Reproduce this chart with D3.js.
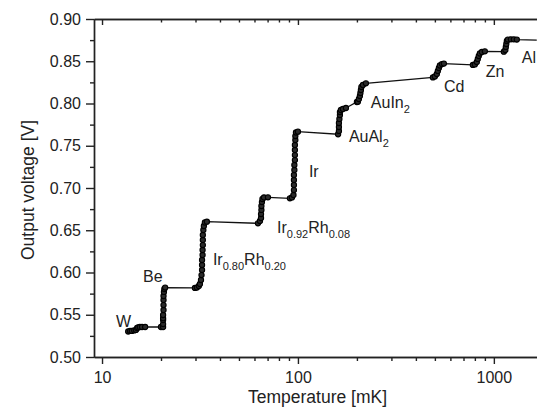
<!DOCTYPE html>
<html>
<head>
<meta charset="utf-8">
<script src="https://cdn.jsdelivr.net/npm/d3@7"></script>
<style>
  body { margin: 0; background: #fff; }
  svg text { font-family: "Liberation Sans", Arial, Helvetica, sans-serif; fill: #222; }
  .axis path, .axis line { stroke: #222; stroke-width: 1.4; }
</style>
</head>
<body>
<div id="chart"></div>
<script>
// temperature [mK] and output voltage [V]
var temps = [
  13.6, 13.9, 14.2, 14.6, 14.9, 15.1, 15.3, 15.6, 16.0, 16.6, 20.0,
  20.5, 20.5, 20.5, 20.5, 20.5, 20.6, 20.6, 20.6, 20.6, 20.7, 20.8, 21.0,
  29.8, 30.5, 31.2, 31.6, 32.0, 32.2, 32.4, 32.4, 32.4, 32.6, 32.6, 32.7, 32.7, 32.7, 32.9, 33.1, 33.5, 34.3,
  62.5, 64.0, 64.8, 64.8, 65.1, 65.1, 65.5, 65.9, 67.1, 70.3,
  91.0, 93.2, 94.9, 95.4, 95.4, 95.4, 95.4, 95.9, 95.9, 96.5, 96.5, 96.5, 96.5, 97.0, 97.0, 97.7, 100,
  160.3, 161.9, 161.9, 161.9, 162.8, 163.8, 163.8, 165.7, 169.7, 175.8, 200,
  202.3, 204.7, 207.1, 208.4, 209.6, 210.8, 214.6, 222.3,
  488.6, 500, 511.7, 517.7, 524.1, 530.3, 542.9, 555.8, 781.6,
  800, 818.6, 828, 837.6, 848.3, 868.6, 899.5, 1124.6,
  1144.8, 1151, 1158, 1164.9, 1178.7, 1221, 1265, 1310, 1656
];
var volts = [
  0.5302, 0.5308, 0.5308, 0.5314, 0.5320, 0.5343, 0.5350, 0.5355, 0.5355, 0.5355, 0.5355,
  0.5355, 0.5390, 0.5438, 0.5460, 0.5497, 0.5556, 0.5615, 0.5675, 0.5722, 0.5770, 0.5805, 0.5822,
  0.5817, 0.5822, 0.5840, 0.5864, 0.5911, 0.5970, 0.6030, 0.6089, 0.6148, 0.6207, 0.6266, 0.6325, 0.6385, 0.6444, 0.6503, 0.6550, 0.6592, 0.6601,
  0.6582, 0.6610, 0.6645, 0.6692, 0.6740, 0.6787, 0.6834, 0.6870, 0.6888, 0.6890,
  0.6878, 0.6888, 0.6917, 0.6976, 0.7036, 0.7095, 0.7154, 0.7213, 0.7272, 0.7331, 0.7390, 0.7450, 0.7509, 0.7568, 0.7615, 0.7657, 0.7667,
  0.7636, 0.7675, 0.7722, 0.7769, 0.7817, 0.7864, 0.7899, 0.7923, 0.7935, 0.7947, 0.8018,
  0.8021, 0.8053, 0.8089, 0.8124, 0.8160, 0.8195, 0.8219, 0.8239,
  0.8308, 0.8320, 0.8349, 0.8385, 0.8420, 0.8450, 0.8467, 0.8473, 0.8456,
  0.8462, 0.8491, 0.8527, 0.8562, 0.8592, 0.8610, 0.8618, 0.8613,
  0.8633, 0.8669, 0.8704, 0.8740, 0.8757, 0.8760, 0.8760, 0.8757, 0.8751
];
// points drawn without a marker (the plain line running out to the edge)
var plainPoints = [1656];

// superconducting reference labels: [main, sub, main, sub]
var labelParts = [
  ["W"], ["Be"], ["Ir", "0.80", "Rh", "0.20"], ["Ir", "0.92", "Rh", "0.08"], ["Ir"],
  ["AuAl", "2"], ["AuIn", "2"], ["Cd"], ["Zn"], ["Al"]
];
var labelTemps = [11.8, 16.2, 36.8, 78.2, 113.8, 182, 235.6, 555.8, 910, 1390];
var labelVolts = [0.5355, 0.5888, 0.6089, 0.6467, 0.713, 0.7544, 0.7947, 0.8136, 0.8314, 0.8479];

var xMajor = [10, 100, 1000];
var xMinor = [20, 30, 40, 50, 60, 70, 80, 90, 200, 300, 400, 500, 600, 700, 800, 900];
var yMajor = [0.50, 0.55, 0.60, 0.65, 0.70, 0.75, 0.80, 0.85, 0.90];
var yMinor = [0.525, 0.575, 0.625, 0.675, 0.725, 0.775, 0.825, 0.875];

var width = 537, height = 410,
    margin = {top: 19, left: 94, bottom: 53, right: -2};

var svg = d3.select("#chart").append("svg")
    .attr("width", width)
    .attr("height", height);

var x = d3.scaleLog()
    .domain([9.1, 1700])
    .range([margin.left, width - margin.right]);
var y = d3.scaleLinear()
    .domain([0.5, 0.9])
    .range([height - margin.bottom, margin.top]);

var bottom = height - margin.bottom;

// axes
svg.append("g").attr("class", "axis")
    .attr("transform", "translate(0," + bottom + ")")
    .call(d3.axisBottom(x).tickValues(xMajor).tickSize(7).tickSizeOuter(0).tickPadding(8).tickFormat(d3.format("d")));
svg.append("g").attr("class", "axis")
    .attr("transform", "translate(0," + bottom + ")")
    .call(d3.axisBottom(x).tickValues(xMinor).tickSize(4).tickSizeOuter(0).tickFormat(""));
svg.append("g").attr("class", "axis")
    .attr("transform", "translate(0," + margin.top + ")")
    .call(d3.axisTop(x).tickValues(xMajor).tickSize(-6).tickSizeOuter(0).tickFormat(""));
svg.append("g").attr("class", "axis")
    .attr("transform", "translate(0," + margin.top + ")")
    .call(d3.axisTop(x).tickValues(xMinor).tickSize(-3.5).tickSizeOuter(0).tickFormat(""));
svg.append("g").attr("class", "axis")
    .attr("transform", "translate(" + margin.left + ",0)")
    .call(d3.axisLeft(y).tickValues(yMajor).tickSize(8).tickSizeOuter(0).tickPadding(5).tickFormat(d3.format(".2f")));
svg.append("g").attr("class", "axis")
    .attr("transform", "translate(" + margin.left + ",0)")
    .call(d3.axisLeft(y).tickValues(yMinor).tickSize(4).tickSizeOuter(0).tickFormat(""));

svg.selectAll(".axis text")
    .style("font-size", "16px")
    .attr("fill", "#222");

// axis titles
svg.append("text")
    .attr("x", (margin.left + width) / 2 + 2)
    .attr("y", 403)
    .attr("text-anchor", "middle")
    .style("font-size", "17.5px")
    .text("Temperature [mK]");
svg.append("text")
    .attr("transform", "translate(34," + (y(0.7) + 2) + ") rotate(-90)")
    .attr("text-anchor", "middle")
    .style("font-size", "17.5px")
    .text("Output voltage [V]");

// data
var pts = temps.map(function(t, i) { return [t, volts[i]]; });

var line = d3.line()
    .x(function(d) { return x(d[0]); })
    .y(function(d) { return y(d[1]); });

svg.append("path")
    .datum(pts)
    .attr("fill", "none")
    .attr("stroke", "#111")
    .attr("stroke-width", 1.3)
    .attr("d", line);

svg.append("g")
  .selectAll("circle")
    .data(pts.filter(function(d) { return plainPoints.indexOf(d[0]) < 0; }))
    .enter().append("circle")
    .attr("cx", function(d) { return x(d[0]); })
    .attr("cy", function(d) { return y(d[1]); })
    .attr("r", 2.6)
    .attr("fill", "#2a2a2a")
    .attr("stroke", "#000")
    .attr("stroke-width", 1.1);

// labels with subscripts
var labels = svg.append("g");
labelParts.forEach(function(parts, i) {
  var t = labels.append("text")
      .attr("x", x(labelTemps[i]))
      .attr("y", y(labelVolts[i]))
      .style("font-size", "16px");
  parts.forEach(function(p, j) {
    var sub = j % 2 == 1;
    t.append("tspan")
      .attr("dy", sub ? 5 : (j > 0 ? -5 : 0))
      .style("font-size", sub ? "11px" : "16px")
      .text(p);
  });
});
</script>
</body>
</html>
